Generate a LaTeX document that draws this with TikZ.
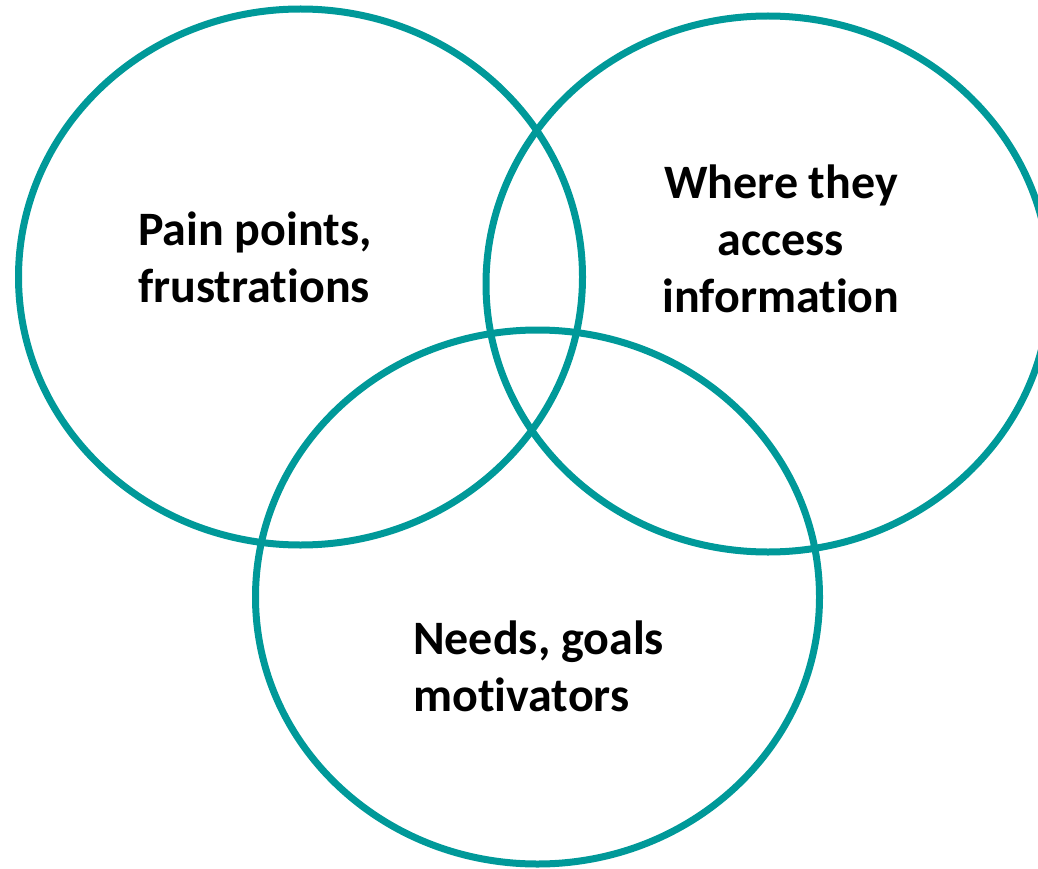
\documentclass[tikz,border=0pt]{standalone}
\usepackage{fontspec}
\setmainfont{Carlito}[Ligatures={NoCommon}]
\definecolor{vennteal}{RGB}{0,153,153}
\begin{document}
\begin{tikzpicture}[x=1pt,y=-1pt,
  ring/.style={draw=vennteal, line width=7pt},
  vennlabel/.style={inner sep=0pt, font=\fontsize{48}{57}\selectfont\bfseries, text=black}]
  \useasboundingbox (0,0) rectangle (1038,869);
  % three overlapping rings
  \draw[ring] (300.5,277) ellipse [x radius=282pt, y radius=268pt];
  \draw[ring] (768,284) ellipse [x radius=282pt, y radius=268pt];
  \draw[ring] (537.5,597) ellipse [x radius=282pt, y radius=267pt];
  % labels
  \node[vennlabel, align=left, anchor=west] (pain) at (138,257) {Pain points,\\frustrations};
  \node[vennlabel, align=center] (access) at (781,239) {Where they\\access\\information};
  \node[vennlabel, align=left, anchor=west] (needs) at (413,666) {Needs, goals\\motivators};
\end{tikzpicture}
\end{document}
